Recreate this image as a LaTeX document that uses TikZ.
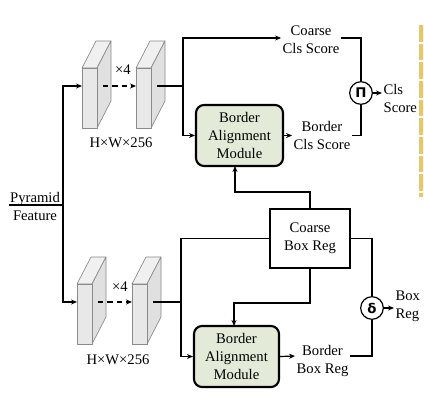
\documentclass[tikz,border=0pt]{standalone}
\usepackage{fontspec}
\setmainfont{Liberation Serif}
\newfontfamily\symfont{DejaVu Sans}
\usetikzlibrary{arrows.meta}
\definecolor{bamfill}{HTML}{E3EBD8}
\definecolor{blkfront}{HTML}{E8E8E8}
\definecolor{blktop}{HTML}{F0F0F0}
\definecolor{blkside}{HTML}{E0E0E0}
\definecolor{blkline}{HTML}{8A8A8A}
\definecolor{yel}{HTML}{F0C45E}
\tikzset{
  lbl/.style={font=\rmfamily\fontsize{11pt}{13.5pt}\selectfont, align=center, inner sep=1pt},
  conn/.style={line width=0.9pt},
  arr/.style={line width=0.9pt, -{Stealth[length=4.5pt,width=3.8pt]}},
  dasharr/.style={arr, dash pattern=on 4pt off 3pt},
  bam/.style={lbl, draw, line width=1.6pt, rounded corners=6pt, fill=bamfill, minimum height=45.75pt},
  boxreg/.style={lbl, draw, line width=0.8pt, fill=white, minimum width=60pt, minimum height=44.25pt},
  opcircle/.style={draw, circle, line width=0.9pt, minimum size=17pt, inner sep=0pt, font=\symfont\bfseries\fontsize{10pt}{10pt}\selectfont},
  blkfaces/.style={draw=blkline, line width=0.5pt, line join=round},
}
% #1 name, #2 x, #3 y (front face top-left, pixel units)
\newcommand\featblock[3]{%
  \filldraw[blkfaces, fill=blktop] (#2,#3) -- ++(14,-27) -- ++(15,0) -- ++(-14,27) -- cycle;
  \filldraw[blkfaces, fill=blkside] (#2+15,#3) -- ++(14,-27) -- ++(0,60) -- ++(-14,27) -- cycle;
  \node[blkfaces, fill=blkfront, minimum width=11.25pt, minimum height=45pt, inner sep=0pt, anchor=north west] (#1) at (#2,#3) {};
  \coordinate (#1-in) at (#2,#3+18);
  \coordinate (#1-out) at (#2+21,#3+18);
}
\begin{document}
\begin{tikzpicture}[x=0.75pt,y=-0.75pt]
\useasboundingbox (0,0) rectangle (424,402);

% cut-off dashed panel edge
\draw[yel, line width=2.4pt, dash pattern=on 12.5pt off 1.5pt] (421,25) -- (421,197);

% input
\node[lbl] (pf) at (35,206) {Pyramid\\Feature};
\coordinate (in) at (9,205);
\coordinate (split) at (63,205);
\draw[conn] (in) -- (split);

% feature blocks
\featblock{t1}{82}{68}
\featblock{t2}{136}{68}
\featblock{b1}{77}{284}
\featblock{b2}{132}{284}

\node[lbl] (x4t) at (123,70) {×4};
\node[lbl] (x4b) at (120,287) {×4};
\node[lbl] (hwt) at (121,143) {H×W×256};
\node[lbl] (hwb) at (118,360) {H×W×256};

\draw[arr] (split) |- (t1-in);
\draw[arr] (split) |- (b1-in);
\draw[dasharr] (t1-out) -- (t2-in);
\draw[dasharr] (b1-out) -- (b2-in);

% top branch
\coordinate (jt) at (183,86);
\node[lbl] (ccs) at (311,39.5) {Coarse\\Cls Score};
\node[bam, minimum width=65.25pt] (bam1) at (239.5,135.5) {Border\\Alignment\\Module};
\node[lbl] (bcs) at (322,135) {Border\\Cls Score};
\node[opcircle] (pi) at (361,93) {Π};
\node[lbl, align=left, anchor=west] (cs) at (382,98.5) {Cls\\Score};

\draw[conn] (t2-out) -- (jt);
\draw[arr] (jt) |- (ccs.west |- 0,38);
\draw[arr] (jt) |- (bam1.west);
\draw[arr] (bam1.east) -- (bcs.west |- bam1.east);
\draw[conn] (ccs.east |- 0,38) -| (pi.north);
\draw[conn] (bcs.east |- bam1.east) -| (pi.south);
\draw[arr] (pi.east) -- (cs.west |- pi.east);

% bottom branch
\coordinate (jb) at (181,302);
\node[boxreg] (cbr) at (310,238.5) {Coarse\\Box Reg};
\node[bam, minimum width=63.75pt] (bam2) at (236.5,356.5) {Border\\Alignment\\Module};
\node[lbl] (bbr) at (322.5,361) {Border\\Box Reg};
\node[opcircle] (dl) at (372,308) {δ};
\node[lbl, align=left, anchor=west] (br) at (394,306.5) {Box\\Reg};

\draw[conn] (b2-out) -- (jb);
\draw[conn] (cbr.west) -| (jb);
\draw[arr] (jb) |- (bam2.west);
\coordinate (up1) at (310,192);
\draw[arr] (cbr.north) -- (up1) -| (235,166);
\coordinate (dn1) at (310,303);
\draw[arr] (cbr.south) -- (dn1) -| (234,326);
\draw[arr] (bam2.east) -- (bbr.west |- 0,356);
\draw[conn] (bbr.east |- 0,356) -| (dl.south);
\draw[conn] (cbr.east) -| (dl.north);
\draw[arr] (dl.east) -- (br.west |- dl.east);
\end{tikzpicture}
\end{document}
